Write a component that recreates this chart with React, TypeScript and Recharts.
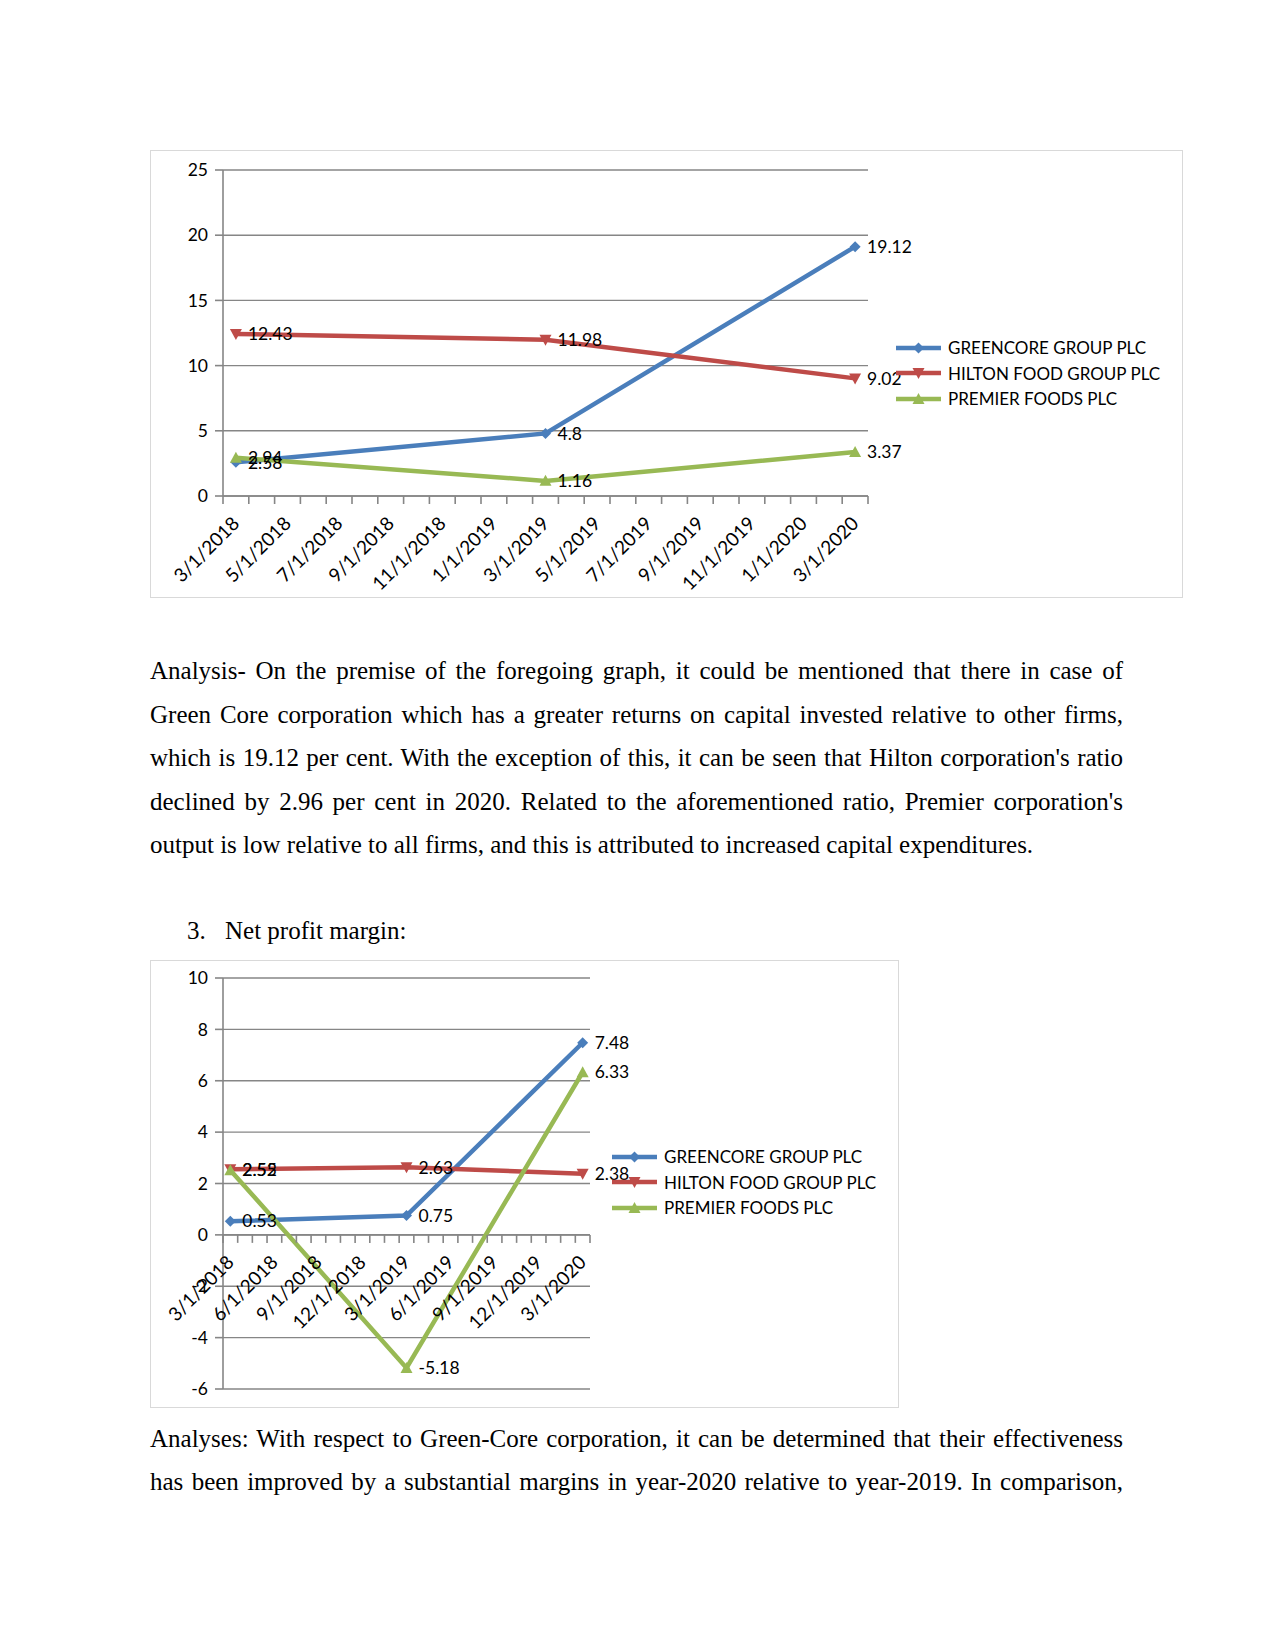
import React from "react";
import {
  CartesianGrid,
  LabelList,
  Legend,
  Line,
  LineChart,
  ReferenceDot,
  ReferenceLine,
  XAxis,
  YAxis,
} from "recharts";

// ---- data ----
const seriesNames = ["GREENCORE GROUP PLC", "HILTON FOOD GROUP PLC", "PREMIER FOODS PLC"];
const pointDates = ["3/1/2018", "3/1/2019", "3/1/2020"];

const roceGreencore = [2.58, 4.8, 19.12];
const roceHilton = [12.43, 11.98, 9.02];
const rocePremier = [2.94, 1.16, 3.37];
const roceYTicks = [0, 5, 10, 15, 20, 25];
const roceXLabels = [
  "3/1/2018", "5/1/2018", "7/1/2018", "9/1/2018", "11/1/2018", "1/1/2019", "3/1/2019",
  "5/1/2019", "7/1/2019", "9/1/2019", "11/1/2019", "1/1/2020", "3/1/2020",
];

const npmGreencore = [0.53, 0.75, 7.48];
const npmHilton = [2.55, 2.63, 2.38];
const npmPremier = [2.52, -5.18, 6.33];
const npmYTicks = [-6, -4, -2, 0, 2, 4, 6, 8, 10];
const npmXLabels = [
  "3/1/2018", "6/1/2018", "9/1/2018", "12/1/2018", "3/1/2019",
  "6/1/2019", "9/1/2019", "12/1/2019", "3/1/2020",
];

// ---- styles ----
const COLORS = ["#4a7ebb", "#be4b48", "#98b954"];
const GRID = "#868686";
const FONT = "Lato, 'Noto Sans', sans-serif";
const SERIF = "'Liberation Serif', 'Times New Roman', serif";

// months since 3/1/2018
const monthIndex = (d: string) => {
  const [m, , y] = d.split("/").map(Number);
  return (y - 2018) * 12 + (m - 3);
};

const buildRows = (g: number[], h: number[], p: number[]) =>
  pointDates.map((d, i) => ({ m: monthIndex(d), g: g[i], h: h[i], p: p[i] }));

const boundaries = Array.from({ length: 26 }, (_, i) => i - 0.5);

const Marker = ({ kind, cx, cy, color }: { kind: number; cx: number; cy: number; color: string }) => {
  if (kind === 0) {
    return <polygon points={`${cx},${cy - 5.5} ${cx + 5.5},${cy} ${cx},${cy + 5.5} ${cx - 5.5},${cy}`} fill={color} />;
  }
  if (kind === 1) {
    return <polygon points={`${cx - 6},${cy - 5} ${cx + 6},${cy - 5} ${cx},${cy + 6}`} fill={color} />;
  }
  return <polygon points={`${cx - 6},${cy + 5} ${cx + 6},${cy + 5} ${cx},${cy - 6}`} fill={color} />;
};

const dotFor = (kind: number) => (props: any) => (
  <Marker key={`dot-${kind}-${props.index}`} kind={kind} cx={props.cx} cy={props.cy} color={COLORS[kind]} />
);

const LegendBox = (props: any) => (
  <div style={{ fontFamily: FONT, fontSize: 17, color: "#000" }}>
    {(props.payload || []).map((entry: any, i: number) => (
      <div key={entry.value} style={{ display: "flex", alignItems: "center", height: 25.5, whiteSpace: "nowrap" }}>
        <svg width={52} height={16} style={{ flexShrink: 0 }}>
          <line x1={0} y1={8} x2={45} y2={8} stroke={COLORS[i]} strokeWidth={4.5} />
          <Marker kind={i} cx={22.5} cy={8} color={COLORS[i]} />
        </svg>
        <span>{entry.value}</span>
      </div>
    ))}
  </div>
);

type ChartProps = {
  width: number;
  height: number;
  margin: { top: number; right: number; bottom: number; left: number };
  rows: { m: number; g: number; h: number; p: number }[];
  yTicks: number[];
  xLabels: string[];
  legendPos: { left: number; top: number };
};

const RatioChart = ({ width, height, margin, rows, yTicks, xLabels, legendPos }: ChartProps) => (
  <LineChart width={width} height={height} data={rows} margin={margin}>
    <CartesianGrid vertical={false} stroke={GRID} strokeWidth={1.4} />
    <XAxis type="number" dataKey="m" domain={[-0.5, 24.5]} allowDataOverflow hide />
    <YAxis
      type="number"
      domain={[yTicks[0], yTicks[yTicks.length - 1]]}
      ticks={yTicks}
      interval={0}
      width={60}
      tickSize={8}
      tickMargin={7}
      axisLine={{ stroke: GRID, strokeWidth: 1.6 }}
      tickLine={{ stroke: GRID, strokeWidth: 1.6 }}
      tick={{ fill: "#000", fontSize: 17.5, fontFamily: FONT }}
    />
    <ReferenceLine y={0} stroke={GRID} strokeWidth={1.6} />
    {boundaries.map((b) => (
      <ReferenceDot
        key={`tick-${b}`}
        x={b}
        y={0}
        r={0}
        ifOverflow="visible"
        shape={(p: any) => <line x1={p.cx} y1={p.cy} x2={p.cx} y2={p.cy + 8} stroke={GRID} strokeWidth={1.6} />}
      />
    ))}
    {xLabels.map((label) => (
      <ReferenceDot
        key={`lab-${label}`}
        x={monthIndex(label)}
        y={0}
        r={0}
        ifOverflow="visible"
        shape={(p: any) => {
          const ax = p.cx;
          const ay = p.cy + 24;
          return (
            <text
              x={ax}
              y={ay}
              dy="0.35em"
              textAnchor="end"
              transform={`rotate(-45 ${ax} ${ay})`}
              fontFamily={FONT}
              fontSize={19}
              fill="#000"
            >
              {label}
            </text>
          );
        }}
      />
    ))}
    {(["g", "h", "p"] as const).map((key, i) => (
      <Line
        key={key}
        dataKey={key}
        name={seriesNames[i]}
        stroke={COLORS[i]}
        strokeWidth={4.5}
        dot={dotFor(i)}
        activeDot={false}
        isAnimationActive={false}
      >
        <LabelList
          dataKey={key}
          position="right"
          offset={12}
          fill="#000"
          style={{ fontFamily: FONT, fontSize: 17.5 }}
        />
      </Line>
    ))}
    <Legend
      layout="vertical"
      align="center"
      verticalAlign="middle"
      wrapperStyle={{ left: legendPos.left, top: legendPos.top, width: 290 }}
      content={LegendBox}
    />
  </LineChart>
);

const textLine = (top: number, text: string, justify: boolean, left = 150, width = 973) => (
  <div
    key={`${top}`}
    style={{
      position: "absolute",
      left,
      top,
      width,
      height: 43,
      lineHeight: "43px",
      fontFamily: SERIF,
      fontSize: 25,
      color: "#000",
      textAlign: justify ? "justify" : "left",
      textAlignLast: justify ? "justify" : "left",
      whiteSpace: "nowrap",
    }}
  >
    {text}
  </div>
);

const para1 = [
  "Analysis- On the premise of the foregoing graph, it could be mentioned that there in case of",
  "Green Core corporation which has a greater returns on capital invested relative to other firms,",
  "which is 19.12 per cent. With the exception of this, it can be seen that Hilton corporation's ratio",
  "declined by 2.96 per cent in 2020. Related to the aforementioned ratio, Premier corporation's",
  "output is low relative to all firms, and this is attributed to increased capital expenditures.",
];
const para2 = [
  "Analyses: With respect to Green-Core corporation, it can be determined that their effectiveness",
  "has been improved by a substantial margins in year-2020 relative to year-2019. In comparison,",
];

export default function App() {
  const frame = (left: number, top: number, w: number, h: number) => ({
    position: "absolute" as const,
    left,
    top,
    width: w,
    height: h,
    border: "1.5px solid #d9d9d9",
    boxSizing: "border-box" as const,
  });
  return (
    <div style={{ position: "absolute", left: 0, top: 0, width: 1275, height: 1650, background: "#fff" }}>
      <div style={frame(150, 150, 1033, 448)} />
      <div style={{ position: "absolute", left: 150, top: 150 }}>
        <RatioChart
          width={1033}
          height={448}
          margin={{ top: 20, right: 315, bottom: 102, left: 13 }}
          rows={buildRows(roceGreencore, roceHilton, rocePremier)}
          yTicks={roceYTicks}
          xLabels={roceXLabels}
          legendPos={{ left: 746, top: 185 }}
        />
      </div>

      {para1.map((t, i) => textLine(649 + i * 43.5, t, i < para1.length - 1))}

      <div style={{ position: "absolute", left: 187, top: 909, height: 43, lineHeight: "43px", fontFamily: SERIF, fontSize: 25 }}>3.</div>
      <div style={{ position: "absolute", left: 225, top: 909, height: 43, lineHeight: "43px", fontFamily: SERIF, fontSize: 25 }}>
        Net profit margin:
      </div>

      <div style={frame(150, 960, 749, 448)} />
      <div style={{ position: "absolute", left: 150, top: 960 }}>
        <RatioChart
          width={749}
          height={448}
          margin={{ top: 18, right: 309, bottom: 19, left: 13 }}
          rows={buildRows(npmGreencore, npmHilton, npmPremier)}
          yTicks={npmYTicks}
          xLabels={npmXLabels}
          legendPos={{ left: 462, top: 184 }}
        />
      </div>

      {para2.map((t, i) => textLine(1417 + i * 43, t, true))}
    </div>
  );
}
